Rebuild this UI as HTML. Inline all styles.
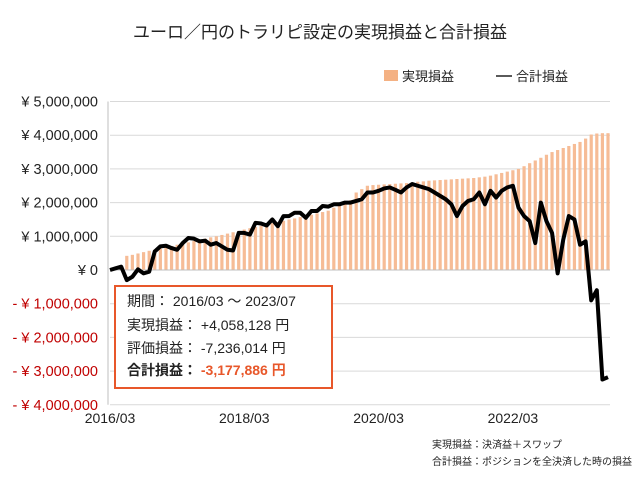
<!DOCTYPE html>
<html><head><meta charset="utf-8"><style>
body{margin:0;background:#fff;}
svg{display:block;font-family:"Liberation Sans","Noto Sans CJK JP",sans-serif;}
</style></head><body>
<svg id="chart" width="640" height="480" viewBox="0 0 640 480">
<text x="320" y="38" text-anchor="middle" font-size="17" fill="#222">ユーロ／円のトラリピ設定の実現損益と合計損益</text>
<g>
<rect x="384" y="70" width="14" height="11" fill="#f4b183"/>
<text x="402" y="81" font-size="13" fill="#222">実現損益</text>
<line x1="496" y1="76" x2="512" y2="76" stroke="#222" stroke-width="1.5"/>
<text x="516" y="81" font-size="13" fill="#222">合計損益</text>
</g>
<g id="grid"></g><g id="bars"></g><g id="axes"></g><g id="line"></g>
<g>
<rect x="115" y="286" width="217" height="102" fill="#fff" stroke="#e8572a" stroke-width="2"/>
<text x="127" y="306" font-size="14" fill="#222">期間： 2016/03 ～ 2023/07</text>
<text x="127" y="330" font-size="14" fill="#222">実現損益： +4,058,128 円</text>
<text x="127" y="353" font-size="14" fill="#222">評価損益： -7,236,014 円</text>
<text x="127" y="375" font-size="14" font-weight="bold" fill="#222">合計損益： <tspan fill="#e8572a">-3,177,886 円</tspan></text>
</g>
<text x="432" y="448" font-size="10" fill="#222">実現損益：決済益＋スワップ</text>
<text x="432" y="465" font-size="10" fill="#222">合計損益：ポジションを全決済した時の損益</text>
</svg>
<script>
const yTicks=[5,4,3,2,1,0,-1,-2,-3,-4];
const yTickLabels=["¥ 5,000,000","¥ 4,000,000","¥ 3,000,000","¥ 2,000,000","¥ 1,000,000","¥ 0","- ¥ 1,000,000","- ¥ 2,000,000","- ¥ 3,000,000","- ¥ 4,000,000"];
const xTickIdx=[0,24,48,72];
const xTickLabels=["2016/03","2018/03","2020/03","2022/03"];
const realized=[0,0,0,0.42,0.45,0.49,0.53,0.57,0.6,0.64,0.68,0.71,0.75,0.79,0.82,0.86,0.9,0.93,0.97,1.0,1.04,1.08,1.12,1.16,1.2,1.24,1.28,1.31,1.35,1.39,1.42,1.46,1.5,1.53,1.57,1.6,1.64,1.68,1.72,1.76,1.85,1.92,2.0,2.07,2.3,2.4,2.5,2.52,2.53,2.54,2.55,2.56,2.57,2.58,2.6,2.62,2.63,2.65,2.66,2.67,2.68,2.69,2.7,2.71,2.72,2.73,2.75,2.77,2.8,2.84,2.88,2.92,2.96,3.0,3.08,3.17,3.25,3.33,3.42,3.5,3.56,3.62,3.68,3.74,3.8,3.9,4.02,4.05,4.06,4.06];
const total=[0,0.05,0.1,-0.3,-0.2,0.02,-0.1,-0.05,0.55,0.7,0.72,0.65,0.6,0.8,0.95,0.93,0.85,0.87,0.75,0.8,0.7,0.6,0.58,1.1,1.1,1.05,1.4,1.38,1.32,1.5,1.3,1.6,1.6,1.7,1.7,1.55,1.75,1.75,1.9,1.88,1.95,1.95,2.0,2.0,2.05,2.1,2.3,2.3,2.35,2.42,2.45,2.38,2.3,2.45,2.55,2.5,2.45,2.4,2.3,2.2,2.1,1.95,1.6,1.9,2.05,2.1,2.3,1.95,2.35,2.15,2.35,2.45,2.5,1.85,1.6,1.45,0.8,2.0,1.45,1.1,-0.1,0.9,1.6,1.5,0.75,0.85,-0.9,-0.6,-3.25,-3.18];
const NS="http://www.w3.org/2000/svg";
const X0=110,X1=610,n=total.length;
const xs=i=>X0+i*(608-X0)/(n-1);
const ys=v=>270-v*33.7;
function mk(t,a,p){const e=document.createElementNS(NS,t);for(const k in a)e.setAttribute(k,a[k]);document.getElementById(p).appendChild(e);return e;}
yTicks.forEach((v,i)=>{
 const g=mk('line',{x1:X0,x2:X1,y1:ys(v),y2:ys(v),stroke:'#d9d9d9','stroke-width':1},'grid');
 
 
 const t=mk('text',{x:98,y:ys(v)+5,'text-anchor':'end','font-size':14.5,fill:v<0?'#c00000':'#222'},'axes');
 t.textContent=yTickLabels[i];
 
 
});
const ax=mk('line',{x1:X0-2,x2:X0-2,y1:ys(5),y2:ys(-4),stroke:'#bfbfbf'},'axes');


const xl=mk('line',{x1:X0,x2:X1,y1:270,y2:270,stroke:'#bfbfbf'},'axes');


xTickIdx.forEach((v,i)=>{
 const t=mk('text',{x:xs(v),y:423,'text-anchor':'middle','font-size':14,fill:'#222'},'axes');
 t.textContent=xTickLabels[i];
 
 
});
realized.forEach((v,i)=>{
 if(v<=0)return;
 const b=mk('rect',{x:xs(i)-1.6,y:ys(v),width:3.2,height:270-ys(v),fill:'#f6bc96'},'bars');
 
 
});
const p=mk('polyline',{points:total.map((v,i)=>xs(i)+','+ys(v)).join(' '),fill:'none',stroke:'#000','stroke-width':4,'stroke-linejoin':'round'},'line');


</script>
</body></html>
